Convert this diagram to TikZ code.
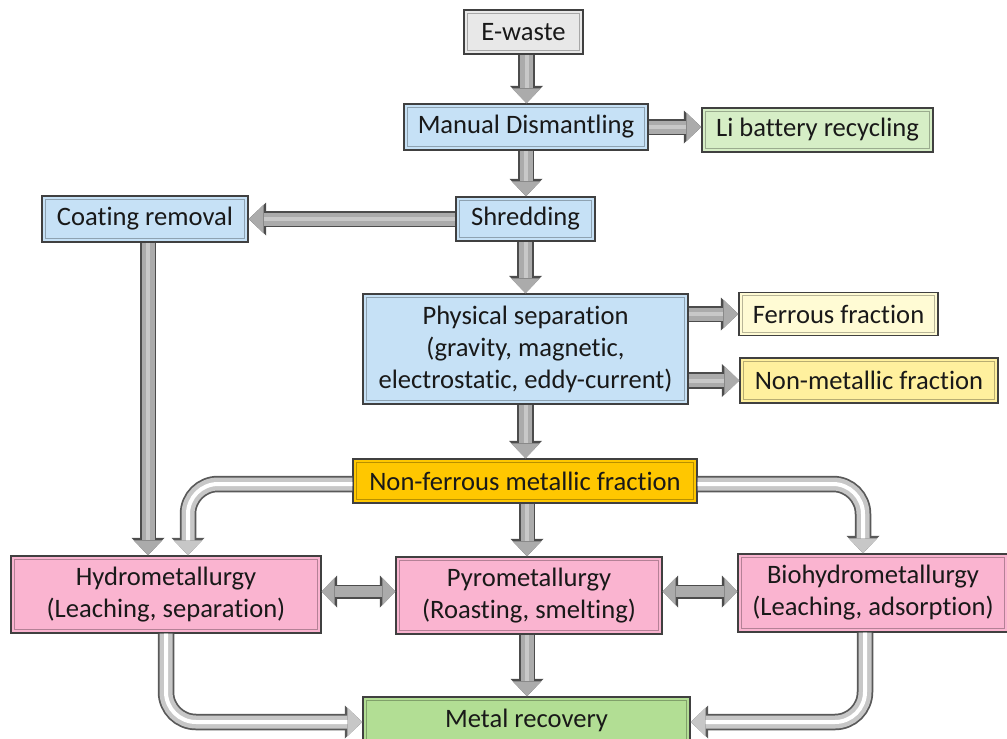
\documentclass[tikz,border=0pt]{standalone}
\usepackage{fontspec}
\setmainfont{Carlito}[Ligatures=NoCommon]
\usetikzlibrary{arrows.meta}
\definecolor{cgray}{RGB}{232,232,232}
\definecolor{cblue}{RGB}{198,225,246}
\definecolor{cgreenl}{RGB}{214,238,198}
\definecolor{cgreen}{RGB}{178,222,148}
\definecolor{ccream}{RGB}{255,251,212}
\definecolor{cyell}{RGB}{255,240,158}
\definecolor{cgold}{RGB}{255,199,0}
\definecolor{cpink}{RGB}{250,180,208}
\tikzset{
  box/.style={draw=black!75, line width=1.4pt, align=center, inner sep=0pt,
    font=\fontsize{26.6}{32}\selectfont, text=black!90},
  inner/.style={draw=black, draw opacity=0.28, line width=0.9pt},
  sarrow/.style={line width=13pt, draw=black!33,
    -{Triangle[length=15pt,width=29pt,line width=0pt]},
    preaction={draw=black!70, line width=16.5pt, -{Triangle[length=17.5pt,width=33pt,line width=0pt]}},
    postaction={draw=white, draw opacity=0.35, line width=4pt, shorten >=15pt, -}},
  darrow/.style={line width=11pt, draw=black!33,
    {Triangle[length=13pt,width=28pt,line width=0pt]}-{Triangle[length=13pt,width=28pt,line width=0pt]},
    preaction={draw=black!70, line width=14pt, {Triangle[length=15.5pt,width=32pt,line width=0pt]}-{Triangle[length=15.5pt,width=32pt,line width=0pt]}}},
  carrow/.style={rounded corners=30pt, line width=13pt, draw=black!22,
    -{Triangle[length=15pt,width=29pt,line width=0pt]},
    preaction={draw=black!65, line width=16.5pt, -{Triangle[length=17.5pt,width=33pt,line width=0pt]}},
    postaction={draw=white, line width=4pt, shorten >=15pt, -}},
}
\begin{document}
\begin{tikzpicture}[x=1pt,y=-1pt]
\useasboundingbox (0,0) rectangle (1007,739);
\node[box, fill=cgray, minimum width=119pt, minimum height=44pt] (ew) at (523.5,32) {E-waste};
\node[box, fill=cblue, minimum width=244pt, minimum height=46pt] (md) at (526,127) {Manual Dismantling};
\node[box, fill=cgreenl, minimum width=231pt, minimum height=44pt] (li) at (817.5,130) {Li battery recycling};
\node[box, fill=cblue, minimum width=206pt, minimum height=46pt] (cr) at (145,219) {Coating removal};
\node[box, fill=cblue, minimum width=139pt, minimum height=44pt] (sh) at (525.5,219) {Shredding};
\node[box, fill=cblue, minimum width=325pt, minimum height=110pt] (ps) at (525.5,349) {Physical separation\\(gravity, magnetic,\\electrostatic, eddy-current)};
\node[box, fill=ccream, minimum width=199pt, minimum height=43pt] (ff) at (838.5,314) {Ferrous fraction};
\node[box, fill=cyell, minimum width=258pt, minimum height=45pt] (nm) at (869,380.5) {Non-metallic fraction};
\node[box, fill=cgold, minimum width=344pt, minimum height=44pt] (nf) at (525,481) {Non-ferrous metallic fraction};
\node[box, fill=cpink, minimum width=310pt, minimum height=77pt] (hy) at (166,594.5) {Hydrometallurgy\\(Leaching, separation)};
\node[box, fill=cpink, minimum width=266pt, minimum height=77pt] (py) at (529,595.5) {Pyrometallurgy\\(Roasting, smelting)};
\node[box, fill=cpink, minimum width=270pt, minimum height=78pt] (bi) at (873,593) {Biohydrometallurgy\\(Leaching, adsorption)};
\node[box, fill=cgreen, minimum width=327pt, minimum height=46pt] (mr) at (526.5,720) {Metal recovery};
\foreach \n in {ew,md,li,cr,sh,ps,ff,nm,nf,hy,py,bi,mr}
  \draw[inner] ([shift={(4pt,4pt)}]\n.south west) rectangle ([shift={(-4pt,-4pt)}]\n.north east);
% straight arrows
\draw[sarrow] ([xshift=3pt]ew.south) -- ([xshift=3pt]ew.south |- md.north);
\draw[sarrow] (md.east) -- (md.east -| li.west);
\draw[sarrow] (md.south) -- (md.south |- sh.north);
\draw[sarrow] (sh.west) -- (sh.west -| cr.east);
\draw[sarrow] (sh.south) -- (sh.south |- ps.north);
\draw[sarrow] (ps.east |- ff.west) -- (ff.west);
\draw[sarrow] (ps.east |- nm.west) -- (nm.west);
\draw[sarrow] (ps.south) -- (ps.south |- nf.north);
\draw[sarrow] ([xshift=3pt]cr.south) -- ([xshift=3pt]cr.south |- hy.north);
\draw[sarrow] ([xshift=2pt]nf.south) -- ([xshift=2pt]nf.south |- py.north);
\draw[sarrow] ([xshift=-2pt]py.south) -- ([xshift=-2pt]py.south |- mr.north);
% double arrows
\draw[darrow] ([yshift=3pt]hy.east) -- ([yshift=3pt]hy.east -| py.west);
\draw[darrow] ([yshift=4pt]py.east) -- ([yshift=4pt]py.east -| bi.west);
% curved arrows
\draw[carrow] ([yshift=-3pt]nf.west) -| ([xshift=22pt]hy.north);
\draw[carrow] ([yshift=-3pt]nf.east) -| ([xshift=-10pt]bi.north);
\draw[carrow] (hy.south) |- ([yshift=-2pt]mr.west);
\draw[carrow] ([xshift=-8pt]bi.south) |- ([yshift=-2pt]mr.east);
\end{tikzpicture}
\end{document}
